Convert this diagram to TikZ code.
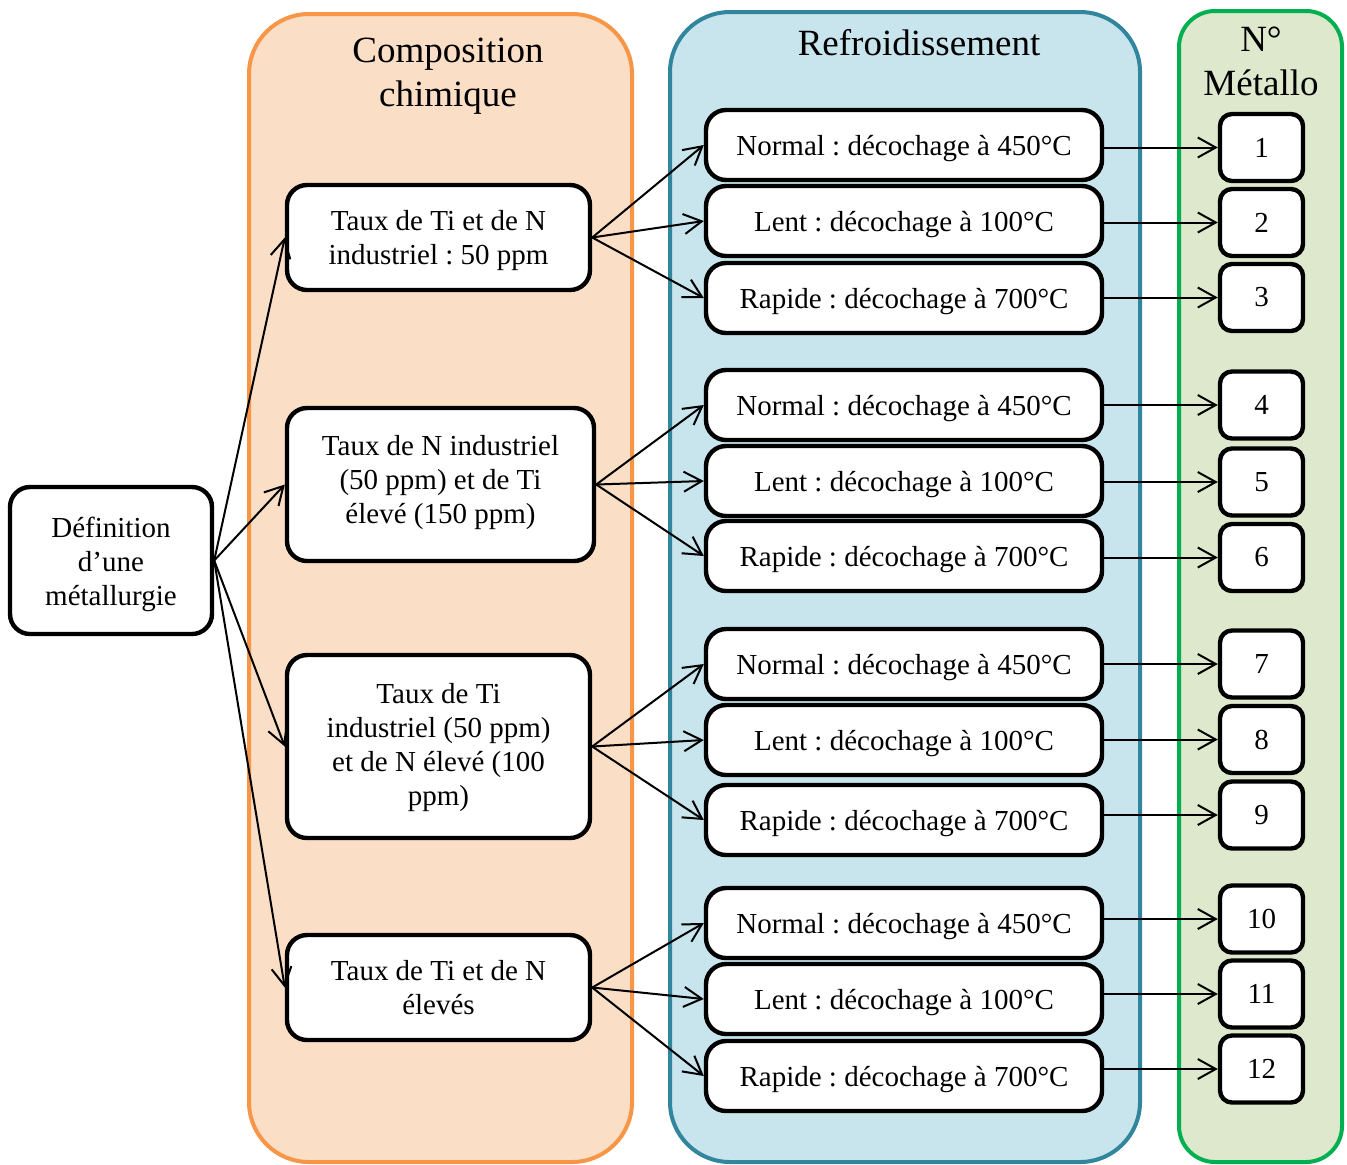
\documentclass[tikz,border=0pt]{standalone}
\usepackage{fontspec}
\setmainfont{Liberation Serif}
\usetikzlibrary{arrows.meta}
\frenchspacing
\definecolor{orB}{HTML}{F79646}
\definecolor{orF}{HTML}{FADEC5}
\definecolor{blB}{HTML}{31859C}
\definecolor{blF}{HTML}{C8E4EC}
\definecolor{grB}{HTML}{00B050}
\definecolor{grF}{HTML}{DEE8CD}
\newcommand{\upstrut}[1]{\rule{0pt}{#1}}
\newcommand{\dnstrut}[1]{\rule[-#1]{0pt}{#1}}
\tikzset{
  container/.style={line width=2pt, rounded corners=30pt},
  box/.style={draw, line width=2.2pt, rounded corners=10pt, fill=white, align=center, inner sep=0pt,
    font=\fontsize{14.5pt}{17pt}\selectfont\frenchspacing},
  cbox/.style={box, minimum width=151.5pt},
  rbox/.style={box, minimum width=198pt, minimum height=35pt, text height=14pt},
  nbox/.style={box, rounded corners=6pt, minimum width=41.5pt, minimum height=33.5pt},
  title/.style={align=center, font=\fontsize{18.5pt}{22pt}\selectfont, inner sep=0pt},
  arr/.style={line width=1pt, -{Straight Barb[length=9pt,width=10pt,line width=1pt]}},
}
\begin{document}
\begin{tikzpicture}[x=0.5pt,y=-0.5pt]
\useasboundingbox (0,0) rectangle (1347,1164);
% containers
\draw[container, draw=orB, fill=orF] (249,14) rectangle (632,1162);
\draw[container, draw=blB, fill=blF] (670,12) rectangle (1140,1162);
\draw[container, rounded corners=18pt, draw=grB, fill=grF] (1179,11) rectangle (1342,1162);
% titles
\node[title] (t1) at (448,76) {Composition\\chimique};
\node[title] (t2) at (919,43) {Refroidissement};
\node[title] (t3) at (1261,61) {N°\\Métallo};
% definition
\node[box, minimum width=101pt, minimum height=73.5pt] (D) at (111,560.5) {\upstrut{14pt}Définition\\d’une\\métallurgie};
% composition
\node[cbox, minimum height=52.5pt] (A1) at (438.5,237.5) {\upstrut{13pt}Taux de Ti et de N\\industriel : 50 ppm};
\node[cbox, minimum width=153.5pt, minimum height=76.5pt] (A2) at (440.5,484.5) {Taux de N industriel\\(50 ppm) et de Ti\\élevé (150 ppm)\dnstrut{5.2pt}};
\node[cbox, minimum height=91.5pt] (A3) at (438.5,746.5) {\upstrut{11pt}Taux de Ti\\industriel (50 ppm)\\et de N élevé (100\\ppm)};
\node[cbox, minimum height=52.5pt] (A4) at (438.5,987.5) {Taux de Ti et de N\\élevés};
% refroidissement
\foreach \g/\ya/\yb/\yc in {1/145/221/298, 2/405/481/556, 3/664/740/820, 4/923/999/1076}{
  \node[rbox] (N\g) at (904,\ya) {Normal : décochage à 450°C};
  \node[rbox] (L\g) at (904,\yb) {Lent : décochage à 100°C};
  \node[rbox] (R\g) at (904,\yc) {Rapide : décochage à 700°C};
}
% numbers
\foreach \n/\y in {1/147.5,2/222.5,3/297.5,4/405,5/482,6/557.5,7/664,8/739.5,9/815,10/919,11/994,12/1069}{
  \node[nbox] (M\n) at (1261.5,\y) {\n};
}
% arrows
\foreach \g in {1,2,3,4}{
  \draw[arr] (D.east) -- (A\g.west);
  \draw[arr] (A\g.east) -- (N\g.west);
  \draw[arr] (A\g.east) -- (L\g.west);
  \draw[arr] (A\g.east) -- (R\g.west);
}
\foreach \r/\n in {N1/1,L1/2,R1/3,N2/4,L2/5,R2/6,N3/7,L3/8,R3/9,N4/10,L4/11,R4/12}{
  \draw[arr] (M\n.west -| \r.east) -- (M\n.west);
}
\end{tikzpicture}
\end{document}
